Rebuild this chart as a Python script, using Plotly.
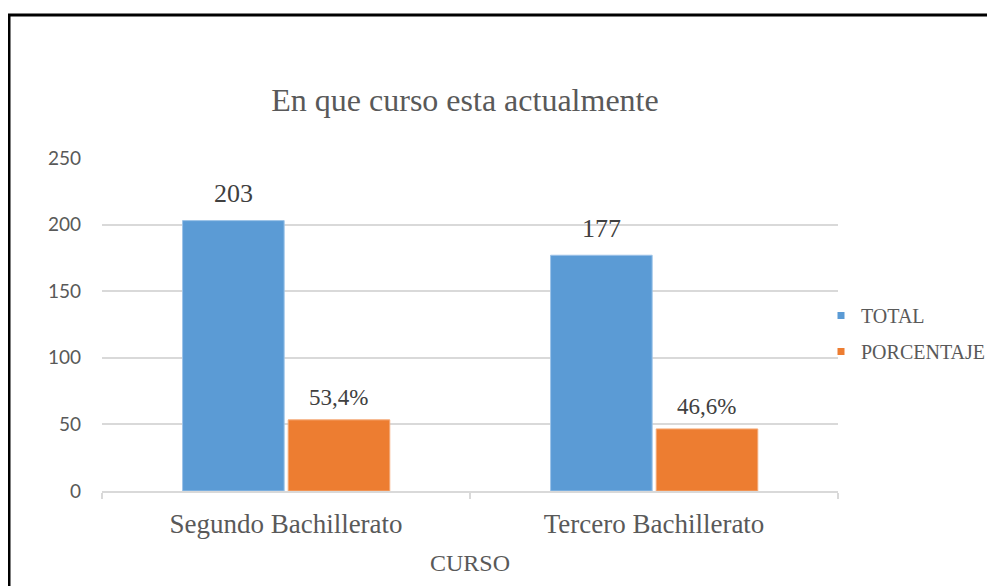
import plotly.graph_objects as go

categories = ["Segundo Bachillerato", "Tercero Bachillerato"]
total_values = [203, 177]
porcentaje_values = [53.4, 46.6]
total_labels = ["203", "177"]
porcentaje_labels = ["53,4%", "46,6%"]
y_ticks = [0, 50, 100, 150, 200, 250]

BLUE = "#5B9BD5"
ORANGE = "#ED7D31"
SERIF = "Liberation Serif, Times New Roman, serif"
SANS = "Lato, Open Sans, sans-serif"

# page body has an 8px margin; figure is sized so it ends at the window edge
PAD = 8
W, H = 995 - PAD, 586 - PAD
ML, MR, MT, MB = 102 - PAD, 157, 158 - PAD, 95

bar_w = 0.276
off_total = -0.281
off_pct = 0.006

fig = go.Figure()
fig.add_trace(go.Bar(
    x=categories, y=total_values, name="TOTAL",
    marker=dict(color=BLUE, line=dict(color="#9CC3E8", width=1)),
    width=bar_w, offset=off_total, showlegend=False,
))
fig.add_trace(go.Bar(
    x=categories, y=porcentaje_values, name="PORCENTAJE",
    marker=dict(color=ORANGE, line=dict(color="#F5AA78", width=1)),
    width=bar_w, offset=off_pct, showlegend=False,
))
fig.add_trace(go.Scatter(x=[None], y=[None], mode="markers", name="TOTAL",
                         marker=dict(symbol="square", size=7, color=BLUE),
                         legendgroup="a"))
fig.add_trace(go.Scatter(x=[None], y=[None], mode="markers", name="PORCENTAJE",
                         marker=dict(symbol="square", size=7, color=ORANGE),
                         legendgroup="b"))

annotations = []
for i, (v, t) in enumerate(zip(total_values, total_labels)):
    annotations.append(dict(x=i + off_total + bar_w / 2, y=v, xref="x", yref="y",
                            text=t, showarrow=False, yanchor="middle", yshift=27,
                            font=dict(family=SERIF, size=26, color="#404040")))
for i, (v, t) in enumerate(zip(porcentaje_values, porcentaje_labels)):
    annotations.append(dict(x=i + off_pct + bar_w / 2, y=v, xref="x", yref="y",
                            text=t, showarrow=False, yanchor="middle", yshift=22,
                            font=dict(family=SERIF, size=23, color="#404040")))

pw = W - ML - MR
ph = H - MT - MB
def px_x(p):  # window pixel -> paper
    return (p - PAD - ML) / pw
def px_y(p):
    return (H - MB - (p - PAD)) / ph

shapes = [
    dict(type="line", xref="paper", yref="paper", x0=px_x(9), x1=px_x(9),
         y0=px_y(14), y1=px_y(600), line=dict(color="#000000", width=3)),
    dict(type="line", xref="paper", yref="paper", x0=px_x(8), x1=px_x(1010),
         y0=px_y(15), y1=px_y(15), line=dict(color="#000000", width=3)),
]

fig.update_layout(
    width=W, height=H,
    margin=dict(l=ML, r=MR, t=MT, b=MB, autoexpand=False),
    paper_bgcolor="white", plot_bgcolor="white",
    title=dict(text="En que curso esta actualmente", x=(465 - PAD) / W, xanchor="center",
               y=1 - (100 - PAD) / H, yanchor="middle", yref="container",
               font=dict(family=SERIF, size=32, color="#595959")),
    barmode="group",
    legend=dict(x=px_x(821), y=px_y(296), xanchor="left", yanchor="top",
                font=dict(family=SERIF, size=20, color="#595959"),
                tracegroupgap=7, traceorder="grouped", bgcolor="rgba(0,0,0,0)"),
    annotations=annotations,
    shapes=shapes,
)
fig.update_xaxes(
    type="category", range=[-0.5, 1.5],
    tickson="boundaries", ticks="outside", ticklen=6, tickcolor="#D9D9D9", tickwidth=1.5,
    showline=True, linecolor="#D9D9D9", linewidth=1.5,
    showgrid=False,
    tickfont=dict(family=SERIF, size=27, color="#595959"),
    ticklabelstandoff=8,
    title=dict(text="CURSO", font=dict(family=SERIF, size=24, color="#595959"), standoff=16),
)
fig.update_yaxes(
    range=[0, 250], tickvals=y_ticks,
    showgrid=True, gridcolor="#D9D9D9", gridwidth=1.5,
    zeroline=False, showline=False,
    tickfont=dict(family=SANS, size=19, color="#595959"),
    ticklabelstandoff=20,
)

fig.write_html("out.html")
